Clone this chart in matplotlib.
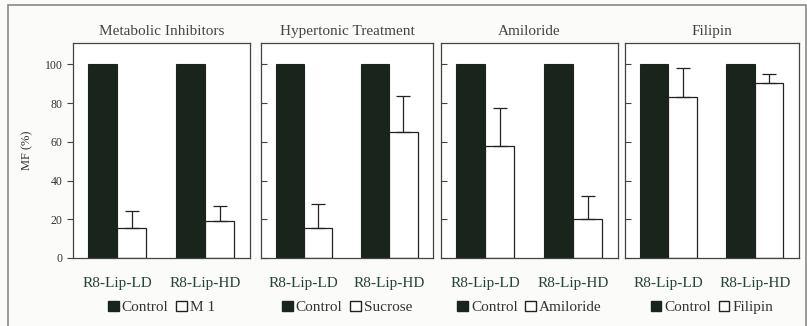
import numpy as np
import matplotlib.pyplot as plt
from matplotlib.patches import Patch, Rectangle

plt.rcParams['font.family'] = ['Liberation Serif', 'DejaVu Serif']

# data
titles = ["Metabolic Inhibitors", "Hypertonic Treatment", "Amiloride", "Filipin"]
treatments = ["M 1", "Sucrose", "Amiloride", "Filipin"]
groups = ["R8-Lip-LD", "R8-Lip-HD"]
control = [[100, 100], [100, 100], [100, 100], [100, 100]]
treated = [[15.3, 19.0], [15.6, 64.8], [57.9, 20.3], [83.2, 90.4]]
treated_err = [[9.1, 7.8], [12.2, 18.9], [19.3, 11.7], [14.9, 4.8]]
yticks = [0, 20, 40, 60, 80, 100]

dark = '#18241c'
label_col = '#25433a'
txt = '#333333'

fig = plt.figure(figsize=(8.07, 3.26), dpi=100)
fig.patch.set_facecolor('#fbfbf9')
fig.patches.append(Rectangle((0.0095, -0.01), 0.989, 0.995, transform=fig.transFigure,
                             fill=False, edgecolor='#888888', lw=1.2))

lefts = [73, 261, 441, 625]
widths = [177, 172, 177, 174]
bw = 0.33
x = np.arange(len(groups))

for i in range(4):
    ax = fig.add_axes([lefts[i] / 807, 68 / 326, widths[i] / 807, 215 / 326])
    ax.set_facecolor('white')
    ax.bar(x - bw / 2, control[i], bw, color=dark, edgecolor=dark, lw=0.8)
    ax.bar(x + bw / 2, treated[i], bw, color='white', edgecolor='#222222', lw=0.9)
    ax.errorbar(x + bw / 2, treated[i], yerr=[np.zeros(2), treated_err[i]],
                fmt='none', ecolor='#222222', elinewidth=0.9, capsize=5, capthick=0.9)
    ax.set_xlim(-0.5, 1.51)
    ax.set_ylim(0, 111)
    ax.set_yticks(yticks)
    ax.set_xticks(x)
    ax.set_xticklabels(groups, color=label_col, fontsize=11)
    ax.tick_params(axis='x', length=0, pad=14)
    for s in ax.spines.values():
        s.set_color('#444444')
        s.set_linewidth(0.9)
    if i == 0:
        ax.tick_params(axis='y', direction='out', length=4, labelsize=8.5,
                       labelcolor=txt, color='#444444')
        ax.set_ylabel("MF (%)", fontsize=9, color=txt, labelpad=8)
    else:
        ax.tick_params(axis='y', direction='in', length=4, labelleft=False,
                       color='#444444')
    ax.set_title(titles[i], fontsize=11, color='#444444', pad=6)
    handles = [Patch(facecolor=dark, edgecolor=dark, label='Control'),
               Patch(facecolor='white', edgecolor='#222222', label=treatments[i])]
    ax.legend(handles=handles, ncol=2, loc='upper center', bbox_to_anchor=(0.5, -0.135),
              frameon=False, handlelength=0.7, handleheight=0.7, handletextpad=0.2,
              columnspacing=0.5, fontsize=11, labelcolor=txt)

fig.savefig('out.png', dpi=100, facecolor=fig.get_facecolor())
